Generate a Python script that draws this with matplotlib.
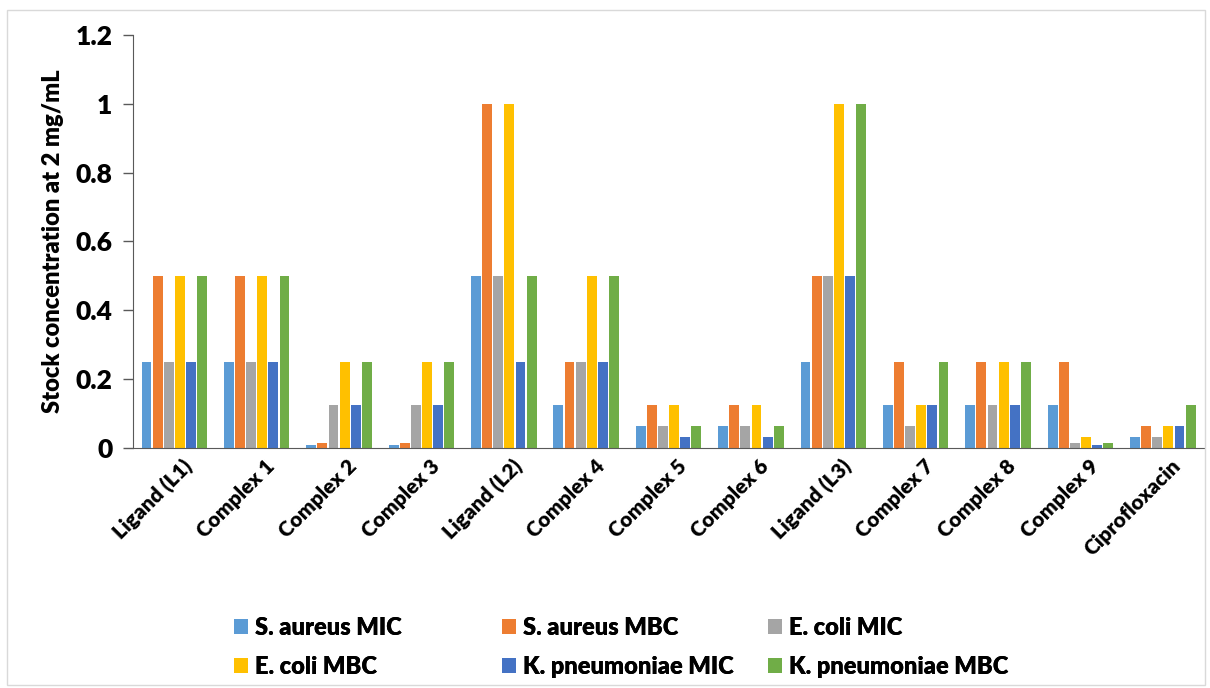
import numpy as np
import matplotlib.pyplot as plt
from matplotlib.patches import Rectangle

# Compounds and MIC/MBC values (mg/mL)
compounds = ['Ligand (L1)', 'Complex 1', 'Complex 2', 'Complex 3', 'Ligand (L2)',
             'Complex 4', 'Complex 5', 'Complex 6', 'Ligand (L3)', 'Complex 7',
             'Complex 8', 'Complex 9', 'Ciprofloxacin']

sa_mic = [0.25, 0.25, 0.0078, 0.0078, 0.5, 0.125, 0.0625, 0.0625, 0.25, 0.125, 0.125, 0.125, 0.03125]
sa_mbc = [0.5, 0.5, 0.0156, 0.0156, 1.0, 0.25, 0.125, 0.125, 0.5, 0.25, 0.25, 0.25, 0.0625]
ec_mic = [0.25, 0.25, 0.125, 0.125, 0.5, 0.25, 0.0625, 0.0625, 0.5, 0.0625, 0.125, 0.0156, 0.03125]
ec_mbc = [0.5, 0.5, 0.25, 0.25, 1.0, 0.5, 0.125, 0.125, 1.0, 0.125, 0.25, 0.03125, 0.0625]
kp_mic = [0.25, 0.25, 0.125, 0.125, 0.25, 0.25, 0.03125, 0.03125, 0.5, 0.125, 0.125, 0.0078, 0.0625]
kp_mbc = [0.5, 0.5, 0.25, 0.25, 0.5, 0.5, 0.0625, 0.0625, 1.0, 0.25, 0.25, 0.0156, 0.125]

series = [sa_mic, sa_mbc, ec_mic, ec_mbc, kp_mic, kp_mbc]
labels = ['S. aureus MIC', 'S. aureus MBC', 'E. coli MIC',
          'E. coli MBC', 'K. pneumoniae MIC', 'K. pneumoniae MBC']
colors = ['#5B9BD5', '#ED7D31', '#A5A5A5', '#FFC000', '#4472C4', '#70AD47']

plt.rcParams['font.family'] = ['Lato', 'DejaVu Sans']

fig = plt.figure(figsize=(12.1, 6.88), dpi=100)
ax = fig.add_axes([0.110, 0.349, 0.885, 0.600])

x = np.arange(len(compounds))
step = 0.135
w = 0.12
bars = []
for i, (vals, lab, c) in enumerate(zip(series, labels, colors)):
    bars.append(ax.bar(x + (i - 2.5) * step, vals, width=w, color=c, label=lab))

ax.set_xlim(-0.5, len(compounds) - 0.5)
ax.set_ylim(0, 1.2)
ax.set_yticks([0, 0.2, 0.4, 0.6, 0.8, 1.0, 1.2])
ax.set_yticklabels(['0', '0.2', '0.4', '0.6', '0.8', '1', '1.2'])
ax.set_xticks(x + 0.1)
ax.set_xticklabels(compounds, rotation=45, ha='right', rotation_mode='anchor')
ax.tick_params(axis='x', length=0, labelsize=15, pad=6)
ax.tick_params(axis='y', length=7, width=1, color='#595959', labelsize=19, pad=8)
for t in ax.get_xticklabels() + ax.get_yticklabels():
    t.set_fontweight('heavy')

for s in ['top', 'right']:
    ax.spines[s].set_visible(False)
ax.spines['left'].set_color('#595959')
ax.spines['bottom'].set_color('#595959')
ax.set_ylabel('Stock concentration at 2 mg/mL', fontsize=17, fontweight='heavy', labelpad=8)

# legend: three equal-width columns, two rows each
col_x = [0.176, 0.397, 0.617]
for j in range(3):
    items = [j, j + 3]
    leg = fig.legend([bars[k] for k in items], [labels[k] for k in items],
                     loc='lower left', bbox_to_anchor=(col_x[j], -0.016),
                     frameon=False, handlelength=0.6, handleheight=0.6,
                     handletextpad=0.3, labelspacing=0.72, borderpad=0.4,
                     prop={'size': 17, 'weight': 'heavy'})
    fig.add_artist(leg)

fig.patches.append(Rectangle((0.006, 0.004), 0.99, 0.982, transform=fig.transFigure,
                             fill=False, edgecolor='#D9D9D9', linewidth=1))

fig.savefig('out.png', dpi=100)
